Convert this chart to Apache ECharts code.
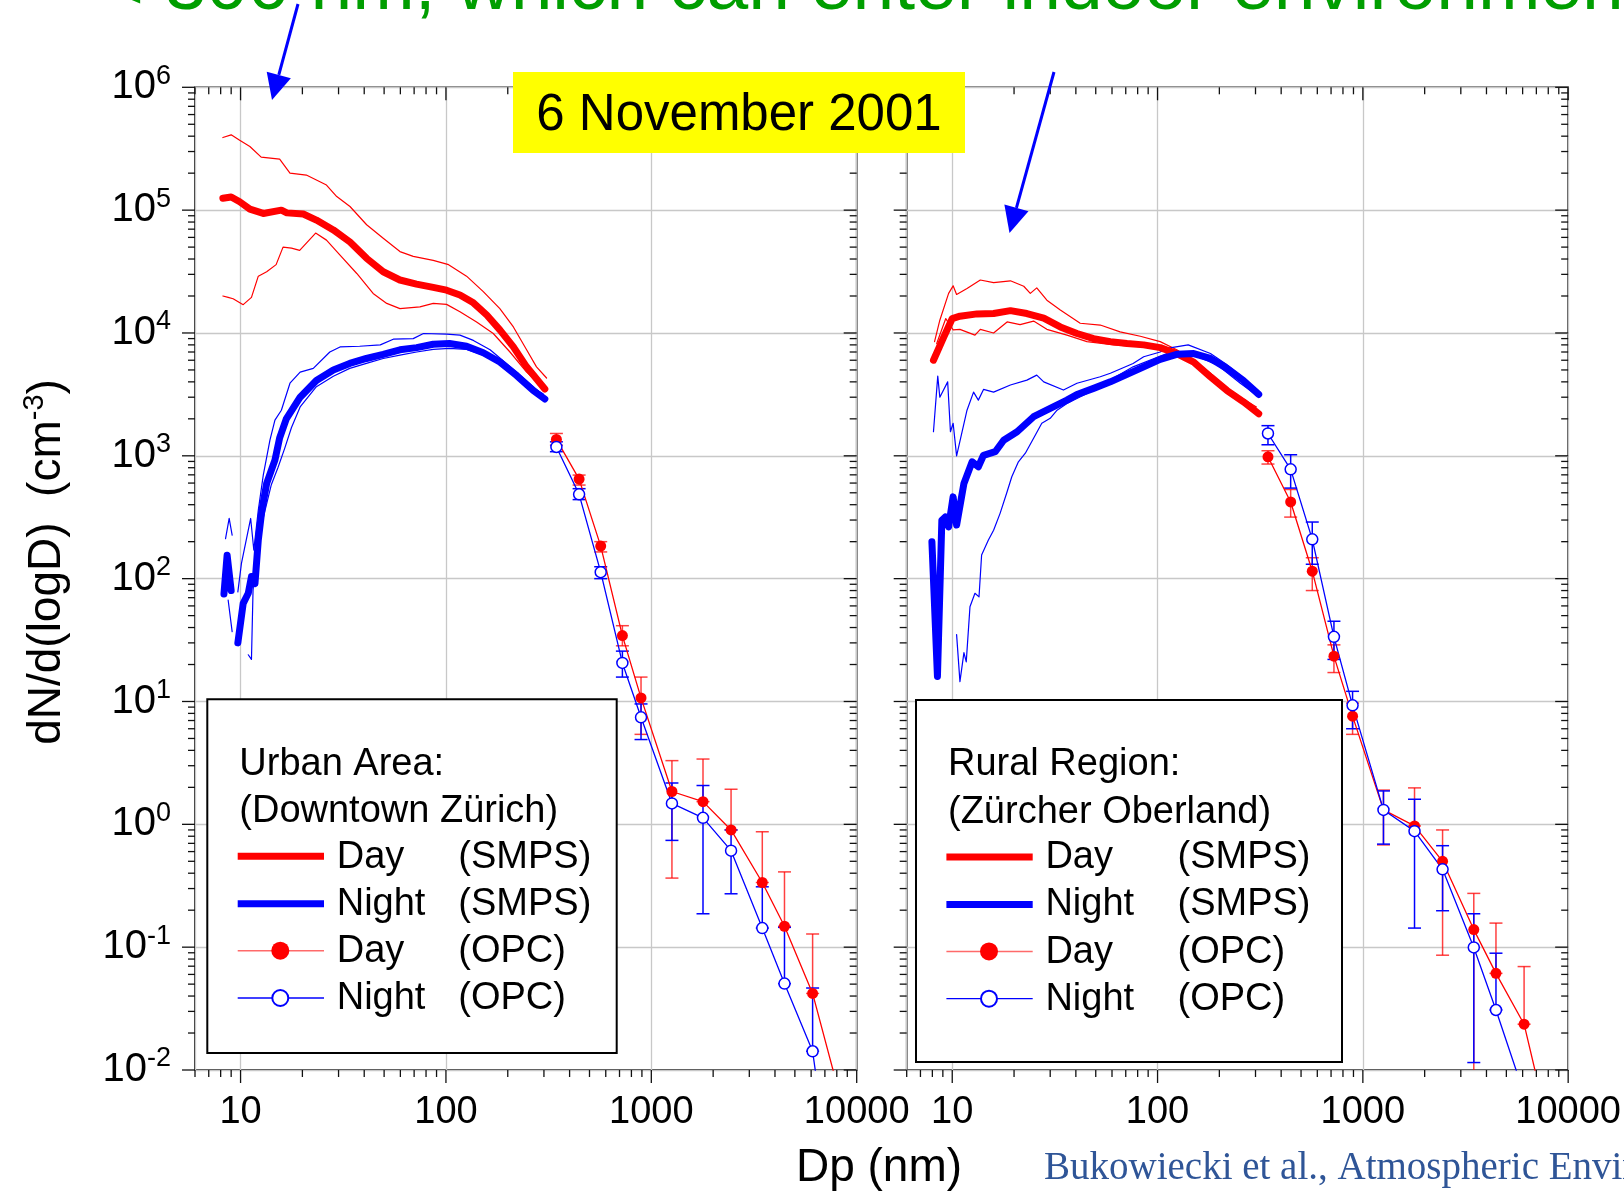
<!DOCTYPE html>
<html><head><meta charset="utf-8">
<script src="https://cdn.jsdelivr.net/npm/echarts@6/dist/echarts.min.js"></script>
<style>html,body{margin:0;padding:0;background:#fff}#c{width:1624px;height:1198px}</style>
</head><body><div id="c"></div>
<script>
// ---------------- DATA ----------------
// SMPS size distributions, [Dp (nm), dN/dlogD (cm^-3)]
const urbanDayMid = [[8.2,1.25e5],[9.0,1.28e5],[9.9,1.17e5],[11.1,1.02e5],[12.9,9.4e4],[15.8,1.0e5],[16.8,9.5e4],[20.2,9.3e4],[23.4,8.3e4],[28.3,6.9e4],[34.1,5.5e4],[41.1,4.05e4],[49.5,3.15e4],[59.7,2.7e4],[71.9,2.5e4],[86.7,2.35e4],[100.7,2.23e4],[117,2.04e4],[136,1.76e4],[158,1.4e4],[183,1.06e4],[213,7.7e3],[247,5.3e3],[303,3.5e3]];
const urbanDayHi = [[8.2,3.9e5],[9.0,4.1e5],[9.9,3.7e5],[11.1,3.3e5],[12.6,2.7e5],[15.5,2.6e5],[17.4,2.0e5],[20.9,1.93e5],[26.2,1.6e5],[29.4,1.29e5],[34.1,1.07e5],[41.1,7.6e4],[49.5,5.9e4],[59.7,4.6e4],[69.3,4.2e4],[86.7,3.9e4],[103,3.6e4],[126,2.9e4],[152,2.17e4],[183,1.58e4],[213,1.12e4],[247,7.3e3],[276,5.3e3],[309,4.3e3]];
const urbanDayLo = [[8.2,2.0e4],[8.7,1.95e4],[9.2,1.9e4],[10.3,1.7e4],[11.3,1.95e4],[12.2,2.9e4],[13.4,3.15e4],[14.9,3.6e4],[16.1,5.0e4],[17.7,4.9e4],[19.4,4.7e4],[23.2,6.5e4],[26.2,5.7e4],[30.5,4.3e4],[36.8,3.05e4],[44.2,2.1e4],[51.5,1.74e4],[59.7,1.58e4],[74.7,1.63e4],[86.7,1.74e4],[100.7,1.71e4],[117,1.49e4],[141,1.23e4],[170,9.9e3],[205,7.0e3],[247,4.8e3],[303,3.5e3]];
const urbanNightMid = [[8.3,75],[8.6,155],[9.0,80],[9.35,'-'],[9.7,30],[10.3,63],[10.9,76],[11.3,104],[11.75,91],[12.2,206],[12.7,362],[13.4,596],[14.7,922],[15.5,1400],[16.7,2000],[19.5,3000],[23.4,4100],[28.3,5000],[34,5650],[41,6200],[49.5,6700],[59.7,7300],[72,7600],[86.7,8100],[104,8200],[126,7800],[152,6900],[183,5800],[221,4500],[266,3400],[303,2900]];
const urbanNightHi = [[8.45,212],[8.8,309],[9.1,226],[9.4,'-'],[9.7,78],[10.1,133],[11.2,309],[11.6,171],[12.2,361],[12.9,696],[13.9,1340],[14.7,1950],[15.8,2350],[17.4,3900],[19.5,4800],[22.6,5150],[27.2,7000],[30.5,7700],[38,7800],[47.9,8000],[55.4,8900],[69.3,9000],[77.7,9900],[100.7,9800],[117,9600],[136,8700],[164,7300],[197,5650],[238,4300],[286,3300]];
const urbanNightLo = [[8.7,67],[9.1,37],[9.4,'-'],[10.9,24],[11.3,22],[11.5,80],[12.0,160],[12.7,282],[14.1,578],[15.2,800],[16.4,1150],[17.7,1700],[19.5,2500],[23.4,3650],[28.3,4450],[34,5150],[41,5650],[49.5,6200],[59.7,6600],[72,7000],[86.7,7350],[104,7500],[126,7350],[152,6600],[183,5600],[221,4400],[266,3550],[297,3200]];

const ruralDayMid = [[8.1,6000],[9.1,9300],[10.0,13100],[10.9,13700],[13.2,14300],[15.9,14400],[19.2,15200],[23.1,14400],[27.9,13200],[33.6,11200],[40.5,9900],[48.8,9000],[58.9,8500],[71,8200],[85.6,8000],[103,7600],[124,6800],[150,5800],[181,4400],[218,3400],[262,2750],[311,2200]];
const ruralDayHi = [[8.2,8500],[8.7,12700],[9.6,21000],[10.1,24200],[10.5,20600],[11.8,23000],[13.7,27000],[15.9,25700],[19.2,26600],[22.3,24000],[24,21000],[25.8,23300],[28.9,18500],[33.6,15400],[42,12000],[52.6,11600],[65.7,10200],[82.4,9400],[103,8500],[124,7300],[150,6000],[181,4700],[218,3500],[262,2900],[303,2500]];
const ruralDayLo = [[8.4,8200],[9.3,13100],[10.1,10600],[10.9,10700],[12.9,9600],[13.7,10700],[15.9,10000],[18.5,12300],[21.4,11700],[24.9,12500],[28.9,10700],[36.2,9600],[45.3,8500],[61.2,8000],[85.6,7700],[111,7300],[139,6200],[181,4300],[218,3300],[262,2650],[311,2150]];
const ruralNightMid = [[7.96,200],[8.47,16],[8.9,299],[9.25,318],[9.6,264],[10.1,463],[10.5,273],[11.4,596],[12.5,893],[13.4,815],[14.2,1010],[16.2,1080],[17.8,1340],[20.7,1570],[24.9,2080],[30,2430],[36.2,2840],[40.5,3160],[48.8,3540],[58.9,4000],[71,4600],[85.6,5300],[103,6100],[124,6700],[150,6800],[181,6200],[218,5150],[262,4100],[311,3160]];
const ruralNightHi = [[8.1,1570],[8.5,4450],[8.7,3000],[9.5,4000],[9.8,1570],[10.1,1840],[10.5,1000],[11.8,2350],[12.7,3300],[13.4,2840],[14.2,3470],[15.9,3300],[19.2,3770],[23.1,4130],[25.8,4540],[27.9,4000],[34.8,3430],[40.5,3900],[52.6,4400],[58.9,4700],[76,5650],[85.6,6400],[103,7000],[111,7500],[141,8000],[181,6800],[218,5500],[262,4300],[311,3300]];
const ruralNightLo = [[10.5,35],[10.9,14.5],[11.4,25],[11.7,21],[12.2,59],[12.9,76],[13.5,71],[13.9,156],[15.0,206],[15.9,248],[17.1,340],[18.5,510],[19.5,675],[21.0,893],[22.7,1050],[24.9,1390],[27.3,1840],[30,2020],[32.4,2350],[36.2,2670],[45.3,3220],[76,5300],[111,6800],[144,6800],[195,5500],[253,3900],[303,3120]];

// OPC channels (nm) and values
const opcD = [345, 445, 567, 723, 891, 1260, 1785, 2445, 3470, 4450, 6100, 7900];
const urbanDayOpc   = [1360, 646, 184, 34.4, 10.7, 1.85, 1.53, 0.90, 0.336, 0.148, 0.042, 0.0083];
const urbanDayOpcHi = [1520, 697, 200, 41.4, 15.8, 3.3, 3.4, 1.93, 0.87, 0.41, 0.128];
const urbanDayOpcLo = [1220, 578, 165, 28.4, 5.4, 0.365, 1.53, 0.90, 0.336, 0.148, 0.042];
const urbanNightOpc   = [1180, 486, 113, 20.6, 7.43, 1.48, 1.13, 0.61, 0.143, 0.0505, 0.0142, 0.00065];
const urbanNightOpcHi = [1300, 540, 125, 25.7, 9.55, 2.17, 2.07, 0.9, 0.31, 0.145, 0.0465];
const urbanNightOpcLo = [1080, 440, 100, 15.8, 4.9, 0.74, 0.187, 0.272, 0.143, 0.0505, 0.0142];
const ruralDayOpc   = [982, 421, 115, 23.4, 7.6, 1.31, 0.97, 0.50, 0.139, 0.0612, 0.0236, 0.0038];
const ruralDayOpcHi = [1100, 532, 148, 28.9, 9.7, 1.9, 1.98, 0.9, 0.274, 0.157, 0.0695];
const ruralDayOpcLo = [857, 317, 80, 17.2, 5.4, 0.68, 0.97, 0.086, 0.005, 0.0612, 0.0236];
const ruralNightOpc   = [1520, 776, 209, 33.6, 9.3, 1.31, 0.88, 0.43, 0.0995, 0.0308, 0.0064];
const ruralNightOpcHi = [1760, 1020, 289, 45, 12.1, 1.87, 1.6, 0.67, 0.187, 0.0893];
const ruralNightOpcLo = [1230, 546, 131, 22, 6.0, 0.69, 0.143, 0.198, 0.0115, 0.0308];

// axis extents / tick labels
const xMin = 6, xMax = 10000, yMin = 0.01, yMax = 1e6;
const xTickLabels = ['10', '100', '1000', '10000'];

// ---------------- CHART ----------------
const FONT = '"Liberation Sans", Arial, sans-serif';
const RED = '#ff0000', BLUE = '#0000ff';
function isPow10(v){ const l = Math.log10(v); return Math.abs(l - Math.round(l)) < 1e-6; }

function tickData(){
  const d = [];
  for (let e = 0; e <= 4; e++) for (let m = 1; m <= 9; m++) {
    const v = m * Math.pow(10, e);
    if (v >= xMin - 1e-9 && v <= xMax + 1e-9) { d.push([v, yMin, 0, m === 1 ? 1 : 0]); d.push([v, yMax, 1, m === 1 ? 1 : 0]); }
  }
  for (let e = -2; e <= 6; e++) for (let m = 1; m <= 9; m++) {
    const v = m * Math.pow(10, e);
    if (v >= yMin * 0.999 && v <= yMax * 1.001) { d.push([xMin, v, 2, m === 1 ? 1 : 0]); d.push([xMax, v, 3, m === 1 ? 1 : 0]); }
  }
  return d;
}
function tickRender(params, api){
  const p = api.coord([api.value(0), api.value(1)]);
  const dir = api.value(2), len = api.value(3) ? 13 : 7;
  let x2 = p[0], y2 = p[1];
  if (dir <= 1) y2 += len; else x2 -= len;
  return {type:'line', shape:{x1:p[0], y1:p[1], x2:x2, y2:y2}, style:{stroke:'#111', lineWidth:1.3}};
}
function errRender(color){
  return function(params, api){
    const x = api.value(0), lo = api.value(1), hi = api.value(2);
    const cs = params.coordSys;
    const pLo = api.coord([x, lo]), pHi = api.coord([x, hi]);
    const top = cs.y, bot = cs.y + cs.height;
    const ch = [];
    const st = {stroke: color, lineWidth: 1.5};
    ch.push({type:'line', shape:{x1:pHi[0], y1:Math.max(pHi[1], top), x2:pHi[0], y2:Math.min(pLo[1], bot)}, style:st});
    const cw = 6.5;
    if (pHi[1] >= top && pHi[1] <= bot) ch.push({type:'line', shape:{x1:pHi[0]-cw, y1:pHi[1], x2:pHi[0]+cw, y2:pHi[1]}, style:st});
    if (pLo[1] >= top && pLo[1] <= bot) ch.push({type:'line', shape:{x1:pLo[0]-cw, y1:pLo[1], x2:pLo[0]+cw, y2:pLo[1]}, style:st});
    return {type:'group', children:ch};
  };
}
function smps(data, color, width, gi, z){
  return {type:'line', xAxisIndex:gi, yAxisIndex:gi, data:data, symbol:'none', showSymbol:false, connectNulls:false,
    lineStyle:{color:color, width:width, cap:'round', join:'round'}, itemStyle:{color:color}, z:z, silent:true, animation:false, clip:true};
}
function opc(vals, filled, color, gi){
  return {type:'line', xAxisIndex:gi, yAxisIndex:gi, data: vals.map((v,i)=>[opcD[i], v]), symbol:'circle', symbolSize:11,
    showSymbol:true, showAllSymbol:true, lineStyle:{color:color, width:1.3},
    itemStyle: filled ? {color:color} : {color:'#fff', borderColor:color, borderWidth:1.5}, z:6, silent:true, animation:false, clip:true};
}
function errs(lo, hi, color, gi){
  return {type:'custom', xAxisIndex:gi, yAxisIndex:gi, data: lo.map((l,i)=>[opcD[i], l, hi[i]]), encode:{x:0, y:[1,2]},
    renderItem: errRender(color), z:5, silent:true, animation:false};
}
function ticks(gi){
  return {type:'custom', xAxisIndex:gi, yAxisIndex:gi, data: tickData(), encode:{x:0, y:1}, renderItem: tickRender, z:20, silent:true, animation:false, clip:false};
}

function xAxis(gi){
  return {type:'log', gridIndex:gi, min:xMin, max:xMax, logBase:10,
    axisLine:{show:false}, axisTick:{show:false}, minorTick:{show:false},
    splitLine:{show:true, lineStyle:{color:'#c8c8c8', width:1.3}},
    axisLabel:{show:true, margin:24, color:'#000', fontSize:38, fontFamily:FONT, showMinLabel:true, showMaxLabel:true, hideOverlap:false,
      formatter: v => isPow10(v) && xTickLabels.indexOf(String(Math.round(v))) >= 0 ? String(Math.round(v)) : ''}};
}
function yAxis(gi, labels){
  return {type:'log', gridIndex:gi, min:yMin, max:yMax, logBase:10,
    axisLine:{show:false}, axisTick:{show:false}, minorTick:{show:false},
    splitLine:{show:true, lineStyle:{color:'#c8c8c8', width:1.3}},
    axisLabel:{show:labels, margin:24, showMinLabel:true, showMaxLabel:true, hideOverlap:false,
      formatter: v => isPow10(v) ? '{b|10}{e|' + Math.round(Math.log10(v)) + '}' : '',
      rich:{b:{fontSize:40, fontFamily:FONT, color:'#000'}, e:{fontSize:27, fontFamily:FONT, color:'#000', padding:[0,0,22,0]}}}};
}

function T(s, x, base, size, extra){
  const st = Object.assign({text:s, x:x, y:base - 0.3465*size, font: size + 'px ' + FONT, fill:'#000',
    textAlign:'left', textVerticalAlign:'middle', align:'left', verticalAlign:'middle'}, extra || {});
  return {type:'text', style:st, z:58, silent:true};
}
function legendEls(ox, oy, bw, bh, t1, t2, col2){
  const e = [];
  e.push({type:'rect', shape:{x:ox, y:oy, width:bw, height:bh}, style:{fill:'#fff', stroke:'#000', lineWidth:2}, z:50, silent:true});
  const tx = ox + 32, c1 = ox + 129.4, c2 = ox + col2, lx1 = ox + 30.4, lx2 = ox + 116.7, mx = ox + 73;
  const ty = 4.5, ly = 3;
  e.push(T(t1, tx, oy + 73.4 + ty, 38));
  e.push(T(t2, tx, oy + 120.7 + ty, 38));
  e.push({type:'line', shape:{x1:lx1, y1:oy+154+ly, x2:lx2, y2:oy+154+ly}, style:{stroke:RED, lineWidth:7}, z:51, silent:true});
  e.push(T('Day', c1, oy + 166.4 + ty, 38)); e.push(T('(SMPS)', c2, oy + 166.4 + ty, 38));
  e.push({type:'line', shape:{x1:lx1, y1:oy+201.4+ly, x2:lx2, y2:oy+201.4+ly}, style:{stroke:BLUE, lineWidth:7}, z:51, silent:true});
  e.push(T('Night', c1, oy + 213.4 + ty, 38)); e.push(T('(SMPS)', c2, oy + 213.4 + ty, 38));
  e.push({type:'line', shape:{x1:lx1, y1:oy+248.4+ly, x2:lx2, y2:oy+248.4+ly}, style:{stroke:'#ff6a6a', lineWidth:1.5}, z:51, silent:true});
  e.push({type:'circle', shape:{cx:mx, cy:oy+248.4+ly, r:9}, style:{fill:RED}, z:52, silent:true});
  e.push(T('Day', c1, oy + 260.7 + ty, 38)); e.push(T('(OPC)', c2, oy + 260.7 + ty, 38));
  e.push({type:'line', shape:{x1:lx1, y1:oy+295.7+ly, x2:lx2, y2:oy+295.7+ly}, style:{stroke:BLUE, lineWidth:1.3}, z:51, silent:true});
  e.push({type:'circle', shape:{cx:mx, cy:oy+295.7+ly, r:8}, style:{fill:'#fff', stroke:BLUE, lineWidth:2}, z:52, silent:true});
  e.push(T('Night', c1, oy + 307.7 + ty, 38)); e.push(T('(OPC)', c2, oy + 307.7 + ty, 38));
  return e;
}
function arrow(x1, y1, x2, y2){
  const dx = x2 - x1, dy = y2 - y1, L = Math.hypot(dx, dy), ux = dx / L, uy = dy / L;
  const hl = 26, hw = 12.5, bx = x2 - ux * hl, by = y2 - uy * hl;
  return [{type:'line', shape:{x1:x1, y1:y1, x2:bx, y2:by}, style:{stroke:BLUE, lineWidth:3}, z:60, silent:true},
    {type:'polygon', shape:{points:[[x2, y2], [bx - uy * hw, by + ux * hw], [bx + uy * hw, by - ux * hw]]}, style:{fill:BLUE}, z:60, silent:true}];
}

const graphics = [].concat(
  [T('< 300 nm, which can enter indoor environment', 100, 14, 75, {fill:'#009e00'})],
  arrow(298, 4, 272, 100),
  arrow(1054, 72, 1009.5, 233),
  [{type:'rect', shape:{x:513, y:72, width:452, height:81}, style:{fill:'#ffff00'}, z:55, silent:true},
   T('6 November 2001', 739, 133.5, 51, {textAlign:'center', align:'center'})],
  legendEls(207.3, 699.3, 409.4, 353.7, 'Urban Area:', '(Downtown Zürich)', 251),
  legendEls(916, 700, 426, 362, 'Rural Region:', '(Zürcher Oberland)', 261.5),
  [{type:'text', x:47, y:562, rotation:Math.PI/2, style:{text:'dN/d(logD)  (cm{s|-3})', x:0, y:0, font:'46px ' + FONT, fill:'#000',
     textAlign:'center', textVerticalAlign:'middle', align:'center', verticalAlign:'middle',
     rich:{s:{fontSize:29, fontFamily:FONT, fill:'#000', color:'#000', padding:[0,0,25,0]}}}, z:58, silent:true},
   T('Dp (nm)', 879, 1184, 46, {textAlign:'center', align:'center'}),
   {type:'text', style:{text:'Bukowiecki et al., Atmospheric Environment', x:1044, y:1182 - 0.3375*39, font:'39px "Liberation Serif", "Times New Roman", serif',
     fill:'#2f5597', textAlign:'left', textVerticalAlign:'middle', align:'left', verticalAlign:'middle'}, z:58, silent:true}]
);

const option = {
  animation:false,
  backgroundColor:'#fff',
  grid:[
    {left:195, top:87.3, width:661.7, height:982.7, show:true, borderColor:'#000', borderWidth:1.6, backgroundColor:'transparent', containLabel:false},
    {left:906.7, top:87.3, width:661.6, height:982.7, show:true, borderColor:'#000', borderWidth:1.6, backgroundColor:'transparent', containLabel:false}
  ],
  xAxis:[xAxis(0), xAxis(1)],
  yAxis:[yAxis(0, true), yAxis(1, false)],
  series:[
    smps(urbanDayHi, RED, 1.2, 0, 3), smps(urbanDayLo, RED, 1.2, 0, 3),
    smps(urbanNightHi, BLUE, 1.2, 0, 3), smps(urbanNightLo, BLUE, 1.2, 0, 3),
    smps(urbanDayMid, RED, 7, 0, 4), smps(urbanNightMid, BLUE, 7, 0, 4),
    errs(urbanDayOpcLo, urbanDayOpcHi, 'rgba(255,0,0,0.75)', 0), errs(urbanNightOpcLo, urbanNightOpcHi, BLUE, 0),
    opc(urbanDayOpc, true, RED, 0), opc(urbanNightOpc, false, BLUE, 0),
    smps(ruralDayHi, RED, 1.2, 1, 3), smps(ruralDayLo, RED, 1.2, 1, 3),
    smps(ruralNightHi, BLUE, 1.2, 1, 3), smps(ruralNightLo, BLUE, 1.2, 1, 3),
    smps(ruralDayMid, RED, 7, 1, 4), smps(ruralNightMid, BLUE, 7, 1, 4),
    errs(ruralDayOpcLo, ruralDayOpcHi, 'rgba(255,0,0,0.75)', 1), errs(ruralNightOpcLo, ruralNightOpcHi, BLUE, 1),
    opc(ruralDayOpc, true, RED, 1), opc(ruralNightOpc, false, BLUE, 1),
    ticks(0), ticks(1)
  ],
  graphic: graphics
};
const chart = echarts.init(document.getElementById('c'), null, {renderer:'canvas'});
chart.setOption(option);
</script></body></html>
